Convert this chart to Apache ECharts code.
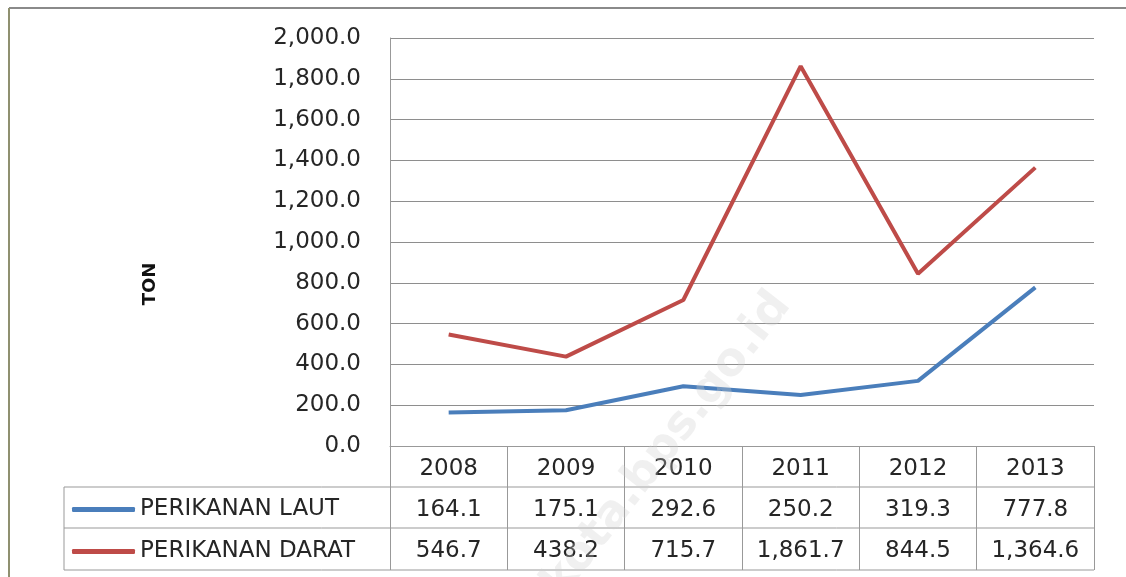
<!DOCTYPE html>
<html>
<head>
<meta charset="utf-8">
<script src="https://cdn.jsdelivr.net/npm/echarts@6/dist/echarts.min.js"></script>
<style>
html,body{margin:0;padding:0;background:#fff;}
#chart{width:1126px;height:577px;}
</style>
</head>
<body>
<div id="chart"></div>
<script>
// data
var years = ["2008", "2009", "2010", "2011", "2012", "2013"];
var laut = [164.1, 175.1, 292.6, 250.2, 319.3, 777.8];
var darat = [546.7, 438.2, 715.7, 1861.7, 844.5, 1364.6];
var seriesNames = ["PERIKANAN LAUT", "PERIKANAN DARAT"];

var FONT = "DejaVu Sans";
var FS = 23;
var LINE_GRAY = "#999999";
var TEXT = "#262626";

function fmt(v)
{
    var s = v.toFixed(1);
    var parts = s.split(".");
    parts[0] = parts[0].replace(/\B(?=(\d{3})+(?!\d))/g, ",");
    return parts.join(".");
}

var chart = echarts.init(document.getElementById("chart"));

var rowTop = 446, rowH = 41;

var option = {
    animation: false,
    backgroundColor: "#fff",
    grid: {left: 390, right: 32, top: 38, bottom: 131},
    legend: {
        data: [
            {name: seriesNames[0], icon: "roundRect"},
            {name: seriesNames[1], icon: "roundRect"}
        ],
        orient: "vertical",
        left: 72,
        top: 498,
        padding: 0,
        itemWidth: 63,
        itemHeight: 5,
        itemGap: 19,
        textStyle: {fontFamily: FONT, fontSize: FS, color: TEXT, lineHeight: 23}
    },
    xAxis: [
        {
            type: "category",
            data: years,
            boundaryGap: true,
            axisLine: {lineStyle: {color: LINE_GRAY, width: 1}},
            axisTick: {show: true, interval: 0, length: 124, lineStyle: {color: LINE_GRAY}},
            axisLabel: {fontFamily: FONT, fontSize: FS, color: TEXT, margin: 12, interval: 0}
        },
        {
            type: "category",
            data: laut.map(fmt),
            position: "bottom",
            offset: rowH,
            axisLine: {show: false},
            axisTick: {show: false},
            axisLabel: {fontFamily: FONT, fontSize: FS, color: TEXT, margin: 12, interval: 0}
        },
        {
            type: "category",
            data: darat.map(fmt),
            position: "bottom",
            offset: rowH * 2,
            axisLine: {show: false},
            axisTick: {show: false},
            axisLabel: {fontFamily: FONT, fontSize: FS, color: TEXT, margin: 12, interval: 0}
        }
    ],
    yAxis: {
        type: "value",
        min: 0,
        max: 2000,
        interval: 200,
        axisLine: {show: true, lineStyle: {color: LINE_GRAY, width: 1}},
        axisTick: {show: false},
        splitLine: {lineStyle: {color: "#8e8e8e", width: 1}},
        axisLabel: {fontFamily: FONT, fontSize: FS, color: TEXT, margin: 29, formatter: fmt}
    },
    series: [
        {
            name: seriesNames[0],
            type: "line",
            data: laut,
            symbol: "none",
            color: "#4a7ebb",
            lineStyle: {width: 4, color: "#4a7ebb"}
        },
        {
            name: seriesNames[1],
            type: "line",
            data: darat,
            symbol: "none",
            color: "#be4b48",
            lineStyle: {width: 4, color: "#be4b48"}
        }
    ],
    graphic: [
        // outer chart frame (top and left edges)
        {type: "line", shape: {x1: 9, y1: 8, x2: 1126, y2: 8}, style: {stroke: "#8a8a8a", lineWidth: 2}},
        {type: "line", shape: {x1: 9, y1: 8, x2: 9, y2: 577}, style: {stroke: "#8f9070", lineWidth: 2}},
        // axis title
        {
            type: "text",
            x: 150, y: 284,
            rotation: Math.PI / 2,
            style: {
                text: "TON",
                fontFamily: FONT,
                fontSize: 18,
                fontWeight: "bold",
                fill: "#111",
                textAlign: "center",
                textVerticalAlign: "middle"
            }
        },
        // data table horizontal rules and legend box
        {type: "line", shape: {x1: 64, y1: rowTop + rowH, x2: 1094, y2: rowTop + rowH}, style: {stroke: LINE_GRAY, lineWidth: 1}},
        {type: "line", shape: {x1: 64, y1: rowTop + rowH * 2, x2: 1094, y2: rowTop + rowH * 2}, style: {stroke: LINE_GRAY, lineWidth: 1}},
        {type: "line", shape: {x1: 64, y1: rowTop + rowH * 3 + 1, x2: 1094, y2: rowTop + rowH * 3 + 1}, style: {stroke: LINE_GRAY, lineWidth: 1}},
        {type: "line", shape: {x1: 64, y1: rowTop + rowH, x2: 64, y2: rowTop + rowH * 3 + 1}, style: {stroke: LINE_GRAY, lineWidth: 1}},
        // watermark
        {
            type: "text",
            x: 782, y: 298,
            rotation: 52 * Math.PI / 180,
            z: 100,
            style: {
                text: "dkota.bps.go.id",
                fontFamily: FONT,
                fontSize: 46,
                fontWeight: "bold",
                fill: "rgba(205,205,205,0.3)",
                textAlign: "right",
                textVerticalAlign: "middle"
            }
        }
    ]
};

chart.setOption(option);
</script>
</body>
</html>
